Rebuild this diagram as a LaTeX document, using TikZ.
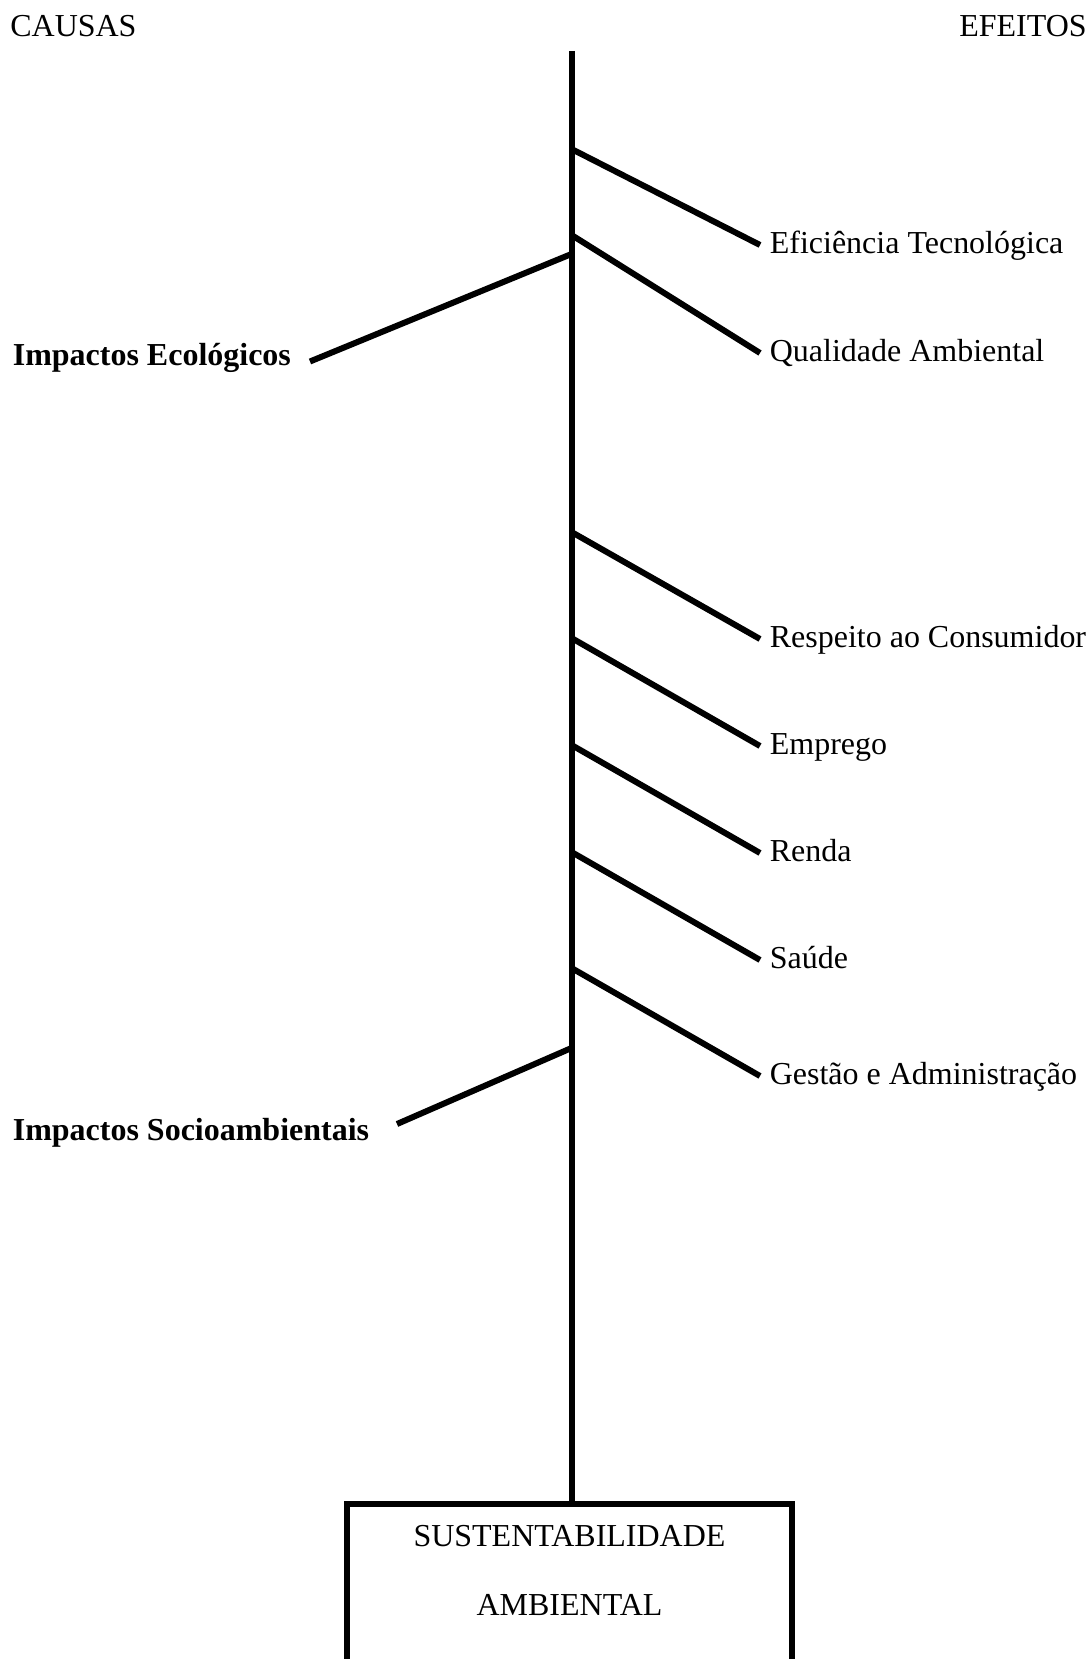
\documentclass[tikz,border=0pt]{standalone}
\usepackage{fontspec}
\setmainfont{Liberation Serif}
\usetikzlibrary{positioning}
\newcommand{\lblsize}{\fontsize{18.2}{22}\selectfont}
\tikzset{
	bone/.style={line width=0.12cm, line cap=butt},
	efeito/.style={anchor=west, inner xsep=0.19cm, inner ysep=0, text height=2.2ex, text depth=0ex, font=\lblsize},
	causa/.style={anchor=base west, inner sep=0, font=\lblsize\bfseries},
	titulo/.style={inner sep=0, font=\lblsize}
}

\begin{document}
\begin{tikzpicture}
		\useasboundingbox (0,0) rectangle (21.8,-33.18);
		\clip (0,0) rectangle (21.8,-33.18);
		\node[titulo, anchor=base west] (causas) at (0.2, -0.74) {CAUSAS};
		\node[titulo, anchor=base east] (efeitos) at (21.74, -0.74) {EFEITOS};
		% caixa do efeito final
		\node[draw, line width=0.12cm, outer sep=0, minimum width=8.9cm, minimum height=4cm, anchor=north] (sust) at (11.39, -30.08) {};
		\node[align=center, font=\fontsize{18.2}{39.3}\selectfont] (sustTxt) at (11.39, -31.41) {SUSTENTABILIDADE\\AMBIENTAL};
		% espinha
		\coordinate (top) at (11.43, -1.02);
		\draw[line width=0.12cm] (top) -- (top |- sust.north);
		% pontos na espinha
		\coordinate (s1) at (11.43, -2.98);
		\coordinate (s2) at (11.43, -4.70);
		\coordinate (s3) at (11.43, -10.64);
		\coordinate (s4) at (11.43, -12.76);
		\coordinate (s5) at (11.43, -14.90);
		\coordinate (s6) at (11.43, -17.04);
		\coordinate (s7) at (11.43, -19.36);
		\coordinate (c1) at (11.43, -5.08);
		\coordinate (c2) at (11.43, -20.96);
		% efeitos
		\node[efeito] (e1) at (15.2, -4.90) {Eficiência Tecnológica};
		\node[efeito] (e2) at (15.2, -7.06) {Qualidade Ambiental};
		\node[efeito] (e3) at (15.2, -12.78) {Respeito ao Consumidor};
		\node[efeito] (e4) at (15.2, -14.92) {Emprego};
		\node[efeito] (e5) at (15.2, -17.06) {Renda};
		\node[efeito] (e6) at (15.2, -19.20) {Saúde};
		\node[efeito] (e7) at (15.2, -21.52) {Gestão e Administração};
		% causas
		\node[causa] (k1) at (0.25, -7.32) {Impactos Ecológicos};
		\node[causa] (k2) at (0.25, -22.81) {Impactos Socioambientais};
		\coordinate (k1end) at (6.20, -7.23);
		\coordinate (k2end) at (7.94, -22.48);
		\draw[bone] (s1) -- (e1.west);
		\draw[bone] (s2) -- (e2.west);
		\draw[bone] (s3) -- (e3.west);
		\draw[bone] (s4) -- (e4.west);
		\draw[bone] (s5) -- (e5.west);
		\draw[bone] (s6) -- (e6.west);
		\draw[bone] (s7) -- (e7.west);
		\draw[bone] (c1) -- (k1end);
		\draw[bone] (c2) -- (k2end);
	\end{tikzpicture}
\end{document}
